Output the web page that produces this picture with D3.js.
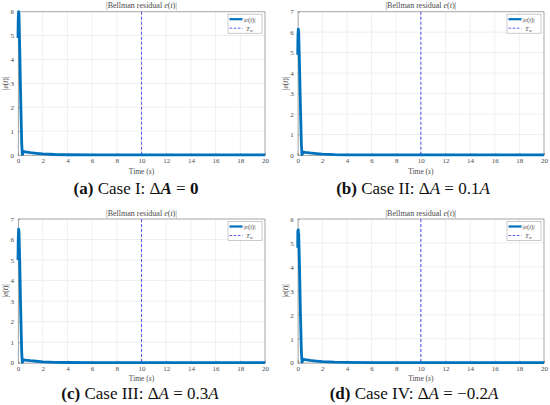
<!DOCTYPE html>
<html><head><meta charset="utf-8">
<script src="https://cdn.jsdelivr.net/npm/d3@7"></script>
<style>body{margin:0;background:#fff}svg{display:block}</style>
</head><body>
<svg id="chart" width="550" height="405"></svg>
<script>
// ---------- data ----------
const xTicks = [0, 2, 4, 6, 8, 10, 12, 14, 16, 18, 20];
const yTicks67 = [0, 1, 2, 3, 4, 5, 6];
const yTicks7 = [0, 1, 2, 3, 4, 5, 6, 7];
const switchTime = 10;   // T_w
const xDomain = [0, 20];

const timeA = [0, 0.02, 0.05, 0.08, 0.15, 0.22, 0.3, 0.35, 0.38, 0.42, 0.6, 1.0, 1.5, 2.0, 3.0, 4.0, 6.0, 10, 20];
const errA  = [4.9, 5.7, 6.0, 5.9, 4.2, 2.3, 0.5, 0.02, 0.05, 0.15, 0.13, 0.1, 0.07, 0.045, 0.02, 0.01, 0.005, 0.003, 0.002];

const timeB = [0, 0.02, 0.05, 0.08, 0.15, 0.22, 0.3, 0.35, 0.38, 0.42, 0.6, 1.0, 1.5, 2.0, 3.0, 4.0, 6.0, 10, 20];
const errB  = [4.9, 5.8, 6.15, 6.0, 4.3, 2.4, 0.5, 0.02, 0.05, 0.15, 0.13, 0.1, 0.07, 0.045, 0.02, 0.01, 0.005, 0.003, 0.002];

const timeC = [0, 0.02, 0.05, 0.08, 0.15, 0.22, 0.3, 0.35, 0.38, 0.42, 0.6, 1.0, 1.5, 2.0, 3.0, 4.0, 6.0, 10, 20];
const errC  = [5.0, 6.0, 6.5, 6.4, 4.6, 2.5, 0.5, 0.02, 0.05, 0.15, 0.13, 0.1, 0.07, 0.045, 0.02, 0.01, 0.005, 0.003, 0.002];

const timeD = [0, 0.01, 0.02, 0.03, 0.04, 0.05, 0.06, 0.08, 0.15, 0.22, 0.3, 0.35, 0.38, 0.42, 0.6, 1.0, 1.5, 2.0, 3.0, 4.0, 6.0, 10, 20];
const errD  = [4.8, 5.5, 4.9, 5.4, 5.0, 5.55, 5.3, 5.4, 3.9, 2.1, 0.45, 0.02, 0.05, 0.15, 0.13, 0.1, 0.07, 0.045, 0.02, 0.01, 0.005, 0.003, 0.002];

const panelLetters = ["a", "b", "c", "d"];
const caseNames = ["Case I", "Case II", "Case III", "Case IV"];
const deltaValues = ["0", "0.1", "0.3", "\u22120.2"];

// ---------- layout ----------
const panels = [
  {t: timeA, e: errA, yMax: 6, yTicks: yTicks67, L: 18,    R: 265, T: 11.7, B: 155,   capX: 136, capY: 194},
  {t: timeB, e: errB, yMax: 7, yTicks: yTicks7,  L: 297.7, R: 544, T: 11.7, B: 155,   capX: 413, capY: 194},
  {t: timeC, e: errC, yMax: 7, yTicks: yTicks7,  L: 18,    R: 265, T: 219,  B: 362.7, capX: 140, capY: 399},
  {t: timeD, e: errD, yMax: 6, yTicks: yTicks67, L: 297.7, R: 544, T: 219,  B: 362.7, capX: 414, capY: 399}
];

const svg = d3.select("#chart");
svg.append("rect").attr("width", 550).attr("height", 405).attr("fill", "#fff");

const serif = "'Liberation Serif', 'DejaVu Serif', serif";
const lineColor = "#0072BD";
const dashColor = "#5c5cf5";
const axisColor = "#8c8c8c";
const textColor = "#4a4a4a";

panels.forEach((p, i) => {
  const x = d3.scaleLinear().domain(xDomain).range([p.L, p.R]);
  const y = d3.scaleLinear().domain([0, p.yMax]).range([p.B, p.T]);
  const g = svg.append("g");

  // grid
  g.append("g").selectAll("line").data(xTicks).join("line")
    .attr("x1", d => x(d)).attr("x2", d => x(d)).attr("y1", p.T).attr("y2", p.B)
    .attr("stroke", "#e4e4e4").attr("stroke-width", 0.6);
  g.append("g").selectAll("line").data(p.yTicks).join("line")
    .attr("x1", p.L).attr("x2", p.R).attr("y1", d => y(d)).attr("y2", d => y(d))
    .attr("stroke", "#e4e4e4").attr("stroke-width", 0.6);

  // axes
  const xAx = g.append("g").attr("transform", `translate(0,${p.B})`)
    .call(d3.axisBottom(x).tickValues(xTicks).tickSize(-2).tickPadding(3).tickFormat(d3.format("d")));
  const yAx = g.append("g").attr("transform", `translate(${p.L},0)`)
    .call(d3.axisLeft(y).tickValues(p.yTicks).tickSize(-2).tickPadding(4).tickFormat(d3.format("d")));
  [xAx, yAx].forEach(a => {
    a.select(".domain").attr("stroke", axisColor).attr("stroke-width", 0.7);
    a.selectAll(".tick line").attr("stroke", axisColor).attr("stroke-width", 0.6);
    a.selectAll(".tick text").attr("fill", textColor).attr("font-family", serif).attr("font-size", 7);
  });
  // box top/right
  g.append("line").attr("x1", p.L).attr("x2", p.R).attr("y1", p.T).attr("y2", p.T)
    .attr("stroke", axisColor).attr("stroke-width", 0.7);
  g.append("line").attr("x1", p.R).attr("x2", p.R).attr("y1", p.T).attr("y2", p.B)
    .attr("stroke", axisColor).attr("stroke-width", 0.7);

  // switch line
  g.append("line").attr("x1", x(switchTime)).attr("x2", x(switchTime))
    .attr("y1", p.T).attr("y2", p.B)
    .attr("stroke", dashColor).attr("stroke-width", 1.1).attr("stroke-dasharray", "3,2");

  // curve
  const pts = p.t.map((t, k) => [t, p.e[k]]);
  g.append("path").datum(pts)
    .attr("d", d3.line().x(d => x(d[0])).y(d => y(d[1])))
    .attr("fill", "none").attr("stroke", lineColor).attr("stroke-width", 2.8)
    .attr("stroke-linejoin", "round");

  const cx = (p.L + p.R) / 2;
  // title
  const title = g.append("text").attr("x", cx).attr("y", p.T - 3.3)
    .attr("text-anchor", "middle").attr("font-family", serif).attr("font-size", 8).attr("fill", textColor);
  title.append("tspan").text("|Bellman residual ");
  title.append("tspan").attr("font-style", "italic").text("e");
  title.append("tspan").text("(");
  title.append("tspan").attr("font-style", "italic").text("t");
  title.append("tspan").text(")|");

  // x label
  const xl = g.append("text").attr("x", cx).attr("y", p.B + 18.5)
    .attr("text-anchor", "middle").attr("font-family", serif).attr("font-size", 7.5).attr("fill", textColor);
  xl.append("tspan").text("Time (");
  xl.append("tspan").attr("font-style", "italic").text("s");
  xl.append("tspan").text(")");

  // y label
  const yl = g.append("text").attr("transform", `translate(${p.L - 10},${(p.T + p.B) / 2}) rotate(-90)`)
    .attr("text-anchor", "middle").attr("font-family", serif).attr("font-size", 7.5).attr("fill", textColor);
  yl.append("tspan").text("|");
  yl.append("tspan").attr("font-style", "italic").text("e");
  yl.append("tspan").text("(");
  yl.append("tspan").attr("font-style", "italic").text("t");
  yl.append("tspan").text(")|");

  // legend
  const lx = p.R - 37, ly = p.T + 2.5;
  g.append("rect").attr("x", lx).attr("y", ly).attr("width", 34).attr("height", 19)
    .attr("fill", "#fff").attr("stroke", "#a8a8a8").attr("stroke-width", 0.6);
  g.append("line").attr("x1", lx + 1.5).attr("x2", lx + 14.5).attr("y1", ly + 5).attr("y2", ly + 5)
    .attr("stroke", lineColor).attr("stroke-width", 2.2);
  const lt1 = g.append("text").attr("x", lx + 15.5).attr("y", ly + 7.5)
    .attr("font-family", serif).attr("font-size", 6.8).attr("fill", textColor);
  lt1.append("tspan").text("|");
  lt1.append("tspan").attr("font-style", "italic").text("e");
  lt1.append("tspan").text("(");
  lt1.append("tspan").attr("font-style", "italic").text("t");
  lt1.append("tspan").text(")|");
  g.append("line").attr("x1", lx + 1.5).attr("x2", lx + 14.5).attr("y1", ly + 14).attr("y2", ly + 14)
    .attr("stroke", dashColor).attr("stroke-width", 1).attr("stroke-dasharray", "2.6,1.6");
  const lt2 = g.append("text").attr("x", lx + 18).attr("y", ly + 16.5)
    .attr("font-family", serif).attr("font-size", 6.8).attr("fill", textColor).attr("font-style", "italic");
  lt2.append("tspan").text("T");
  lt2.append("tspan").attr("font-size", 5).attr("dy", 1.3).text("w");

  // caption
  const cap = svg.append("text").attr("x", p.capX).attr("y", p.capY)
    .attr("text-anchor", "middle").attr("font-family", serif).attr("font-size", 17).attr("fill", "#111");
  cap.append("tspan").attr("font-weight", "bold").text(`(${panelLetters[i]})`);
  cap.append("tspan").text(` ${caseNames[i]}: \u0394`);
  cap.append("tspan").attr("font-style", "italic").attr("font-weight", i === 0 ? "bold" : "normal").text("A");
  cap.append("tspan").text(" = ");
  if (i === 0) {
    cap.append("tspan").attr("font-weight", "bold").text(deltaValues[i]);
  } else {
    cap.append("tspan").text(deltaValues[i]);
    cap.append("tspan").attr("font-style", "italic").text("A");
  }
});
</script>
</body></html>
